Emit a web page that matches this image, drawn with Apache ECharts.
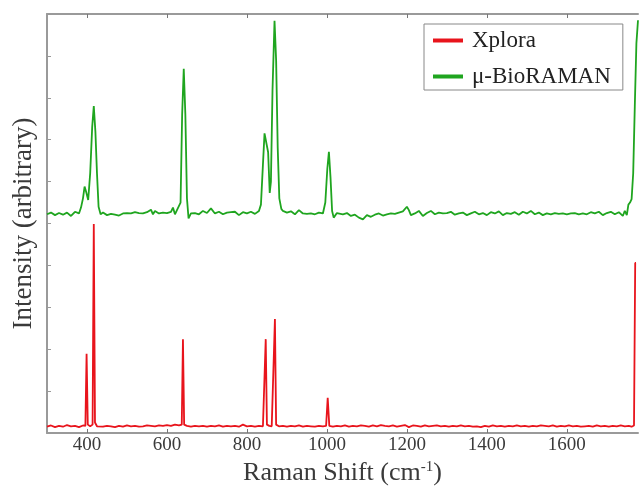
<!DOCTYPE html>
<html>
<head>
<meta charset="utf-8">
<script src="https://cdn.jsdelivr.net/npm/echarts@6/dist/echarts.min.js"></script>
<style>html,body{margin:0;padding:0;background:#fff}#c{width:639px;height:487px}</style>
</head>
<body>
<div id="c"></div>
<script>
// Raman shift tick labels
const xTicks = [400, 600, 800, 1000, 1200, 1400, 1600];
const seriesNames = ['Xplora', 'μ-BioRAMAN'];

// Xplora spectrum [shift, intensity]
const xploraData = [
[300,0.15],[310,0.18],[320,0.14],[330,0.17],[340,0.15],[350,0.19],[360,0.16],[370,0.17],[380,0.14],[390,0.18],
[396,0.17],[399,1.89],[402,0.20],[408,0.16],[414,0.20],[417,4.99],[420,0.25],[425,0.16],[430,0.18],[440,0.15],
[450,0.17],[460,0.16],[470,0.14],[480,0.17],[490,0.15],[500,0.18],[510,0.16],[520,0.17],[530,0.15],[540,0.16],
[550,0.18],[560,0.17],[570,0.16],[580,0.18],[590,0.17],[600,0.19],[610,0.17],[620,0.20],[630,0.18],[637,0.20],
[640,2.24],[643,0.20],[650,0.17],[660,0.15],[670,0.17],[680,0.16],[690,0.17],[700,0.15],[710,0.17],[720,0.16],
[730,0.18],[740,0.15],[750,0.17],[760,0.16],[770,0.17],[780,0.15],[790,0.20],[800,0.16],[810,0.17],[820,0.15],
[830,0.17],[840,0.16],[844,0.18],[847,2.24],[850,0.20],[856,0.17],[862,0.16],[867,0.20],[870,2.72],[873,0.20],
[880,0.16],[890,0.17],[900,0.15],[910,0.17],[920,0.16],[930,0.18],[940,0.15],[950,0.17],[960,0.16],[970,0.15],
[980,0.17],[990,0.16],[998,0.17],[1002,0.84],[1006,0.17],[1015,0.15],[1025,0.17],[1035,0.16],[1045,0.18],[1055,0.15],
[1065,0.17],[1075,0.16],[1085,0.18],[1095,0.17],[1105,0.15],[1115,0.18],[1125,0.16],[1135,0.19],[1145,0.17],[1155,0.16],
[1165,0.18],[1175,0.15],[1185,0.17],[1195,0.19],[1205,0.14],[1215,0.18],[1225,0.17],[1235,0.15],[1245,0.18],[1255,0.16],
[1265,0.17],[1275,0.18],[1285,0.16],[1295,0.17],[1305,0.15],[1315,0.17],[1325,0.16],[1335,0.18],[1345,0.16],[1355,0.17],
[1365,0.15],[1375,0.16],[1385,0.14],[1395,0.17],[1405,0.15],[1415,0.18],[1425,0.16],[1435,0.17],[1445,0.15],[1455,0.17],
[1465,0.16],[1475,0.18],[1485,0.16],[1495,0.17],[1505,0.15],[1515,0.17],[1525,0.16],[1535,0.18],[1545,0.17],[1555,0.16],
[1565,0.18],[1575,0.15],[1585,0.17],[1595,0.16],[1605,0.18],[1615,0.16],[1625,0.17],[1635,0.15],[1645,0.16],[1655,0.17],
[1665,0.15],[1675,0.18],[1685,0.16],[1695,0.17],[1705,0.15],[1715,0.17],[1725,0.16],[1735,0.18],[1745,0.16],[1755,0.17],
[1762,0.15],[1768,0.18],[1771,4.06],[1773,4.06]
];

// mu-BioRAMAN spectrum [shift, intensity] (offset above Xplora)
const bioRamanData = [
[300,5.22],[310,5.26],[320,5.20],[330,5.25],[340,5.21],[350,5.26],[360,5.18],[370,5.28],[380,5.24],[385,5.38],
[390,5.60],[394,5.88],[398,5.75],[403,5.56],[408,6.20],[413,7.30],[417,7.80],[421,7.20],[425,6.20],[429,5.40],
[434,5.22],[440,5.26],[450,5.20],[460,5.23],[470,5.21],[480,5.19],[490,5.24],[500,5.25],[510,5.24],[520,5.27],
[530,5.25],[540,5.24],[550,5.27],[560,5.33],[565,5.22],[570,5.30],[580,5.24],[590,5.26],[600,5.25],[610,5.28],
[615,5.38],[620,5.22],[625,5.32],[630,5.28],[634,5.50],[638,7.60],[642,8.69],[646,7.60],[650,5.60],[654,5.12],
[660,5.24],[670,5.25],[680,5.22],[690,5.30],[700,5.25],[710,5.36],[720,5.24],[730,5.28],[740,5.22],[750,5.26],
[760,5.27],[770,5.28],[780,5.20],[790,5.27],[800,5.24],[810,5.28],[820,5.23],[830,5.30],[835,5.45],[840,6.40],
[844,7.15],[849,7.19],[853,6.70],[857,5.73],[860,6.00],[864,8.20],[869,9.84],[873,8.90],[877,6.80],[881,5.60],
[886,5.35],[890,5.30],[900,5.26],[910,5.29],[920,5.22],[930,5.32],[940,5.24],[950,5.23],[960,5.24],[970,5.22],
[980,5.26],[990,5.24],[996,5.50],[1001,6.30],[1005,6.71],[1009,6.10],[1013,5.30],[1017,5.14],[1025,5.25],[1030,5.26],
[1040,5.22],[1050,5.25],[1060,5.18],[1070,5.21],[1080,5.14],[1090,5.10],[1100,5.20],[1110,5.16],[1120,5.21],[1130,5.24],
[1140,5.19],[1150,5.22],[1160,5.24],[1170,5.23],[1180,5.26],[1190,5.29],[1200,5.40],[1205,5.32],[1210,5.20],[1220,5.24],
[1230,5.30],[1240,5.18],[1250,5.25],[1260,5.30],[1270,5.22],[1280,5.26],[1290,5.24],[1300,5.25],[1310,5.28],[1320,5.21],
[1330,5.24],[1340,5.26],[1350,5.20],[1360,5.24],[1370,5.28],[1380,5.22],[1390,5.25],[1400,5.20],[1410,5.27],[1420,5.24],
[1430,5.29],[1440,5.20],[1450,5.25],[1460,5.23],[1470,5.27],[1480,5.21],[1490,5.28],[1500,5.24],[1510,5.30],[1520,5.22],
[1530,5.26],[1540,5.20],[1550,5.24],[1560,5.22],[1570,5.25],[1580,5.23],[1590,5.24],[1600,5.22],[1610,5.24],[1620,5.25],
[1630,5.22],[1640,5.24],[1650,5.22],[1660,5.27],[1670,5.24],[1680,5.28],[1690,5.20],[1700,5.25],[1710,5.28],[1720,5.22],
[1730,5.27],[1740,5.18],[1745,5.30],[1750,5.20],[1754,5.45],[1758,5.50],[1762,5.58],[1766,6.20],[1770,7.80],[1774,9.30],
[1778,9.85]
];

const font = 'Liberation Serif';
const axisGray = '#9a9a9a';
const textCol = '#3a3a3a';

const chart = echarts.init(document.getElementById('c'));
chart.setOption({
  animation: false,
  backgroundColor: '#fff',
  grid: { left: 47, right: 1, top: 14, bottom: 54, containLabel: false, outerBoundsMode: 'none' },
  legend: {
    data: seriesNames,
    orient: 'vertical',
    left: 424, top: 24,
    padding: [5, 12, 2, 9],
    itemGap: 13,
    itemWidth: 30, itemHeight: 4,
    icon: 'rect',
    backgroundColor: '#fff',
    borderColor: '#888', borderWidth: 1,
    textStyle: { fontFamily: font, fontSize: 23, color: '#222', padding: [0, 0, 0, 4] }
  },
  xAxis: [{
    type: 'value', min: 300, max: 1778, position: 'bottom',
    name: 'Raman Shift (cm{sup|-1})', nameLocation: 'middle', nameGap: 22,
    nameTextStyle: { fontFamily: font, fontSize: 26, color: textCol, verticalAlign: 'top',
      rich: { sup: { fontFamily: font, fontSize: 15, color: textCol, verticalAlign: 'top', padding: [0, 0, 12, 0] } } },
    axisLine: { show: true, onZero: false, lineStyle: { color: axisGray, width: 2 } },
    axisTick: { show: true, inside: true, length: 4, customValues: xTicks, lineStyle: { color: '#777' } },
    axisLabel: { show: true, customValues: xTicks, margin: 3, fontFamily: font, fontSize: 19, color: textCol,
      formatter: v => String(v) },
    splitLine: { show: false }
  }, {
    type: 'value', min: 300, max: 1778, position: 'top',
    axisLine: { show: true, onZero: false, lineStyle: { color: axisGray, width: 2 } },
    axisTick: { show: true, inside: true, length: 4, customValues: xTicks, lineStyle: { color: '#777' } },
    axisLabel: { show: false },
    splitLine: { show: false }
  }],
  yAxis: {
    type: 'value', min: 0, max: 10, interval: 1,
    name: 'Intensity (arbitrary)', nameLocation: 'middle', nameGap: 10,
    nameTextStyle: { fontFamily: font, fontSize: 27, color: textCol },
    axisLine: { show: true, lineStyle: { color: axisGray, width: 2 } },
    axisTick: { show: true, inside: true, length: 4, lineStyle: { color: '#999' } },
    axisLabel: { show: false },
    splitLine: { show: false }
  },
  series: [{
    name: seriesNames[0], type: 'line', data: xploraData, showSymbol: false, symbol: 'none',
    xAxisIndex: 0, lineStyle: { color: '#e8141c', width: 1.8 }, itemStyle: { color: '#e8141c' }, z: 3
  }, {
    name: seriesNames[1], type: 'line', data: bioRamanData, showSymbol: false, symbol: 'none',
    xAxisIndex: 0, lineStyle: { color: '#1fa51f', width: 1.8 }, itemStyle: { color: '#1fa51f' }, z: 2
  }]
});
</script>
</body>
</html>
